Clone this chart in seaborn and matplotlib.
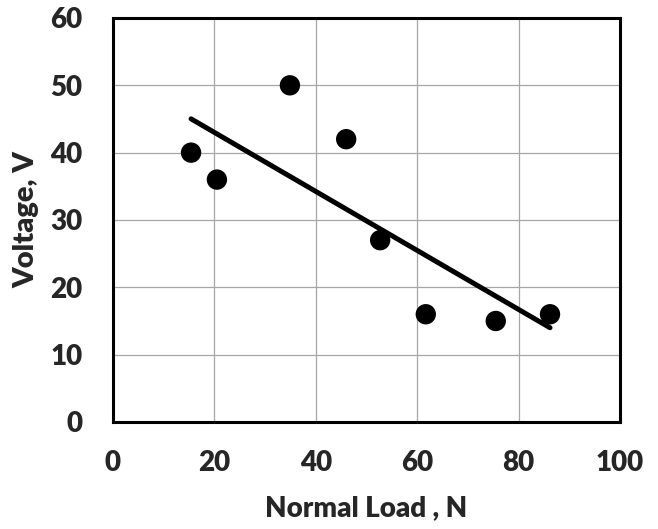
import numpy as np
import matplotlib
matplotlib.use("Agg")
import matplotlib.pyplot as plt
import pandas as pd
import seaborn as sns

# values
normal_load = [15.4, 20.5, 34.9, 46.0, 52.7, 61.7, 75.5, 86.2]
voltage = [40, 36, 50, 42, 27, 16, 15, 16]
x_ticks = [0, 20, 40, 60, 80, 100]
y_ticks = [0, 10, 20, 30, 40, 50, 60]

df = pd.DataFrame({"load": normal_load, "voltage": voltage})

sns.set_style("white")
plt.rcParams["font.family"] = ["Lato", "DejaVu Sans"]
plt.rcParams["font.weight"] = "bold"

fig = plt.figure(figsize=(6.58, 5.29), dpi=100)
ax = fig.add_axes([0.1717, 0.2023, 0.7705, 0.7637])

sns.regplot(data=df, x="load", y="voltage", ax=ax, ci=None, truncate=True,
            scatter_kws=dict(s=215, color="black", edgecolor="none", alpha=1, zorder=4),
            line_kws=dict(color="black", lw=3.6, zorder=3))

ax.set_xlim(0, 100)
ax.set_ylim(0, 60)
ax.set_xticks(x_ticks)
ax.set_yticks(y_ticks)
ax.grid(True, color="#a6a6a6", lw=0.9)
ax.set_axisbelow(True)
ax.tick_params(length=0, labelsize=20)
ax.tick_params(axis="x", pad=20)
ax.tick_params(axis="y", pad=22)
for lab in ax.get_xticklabels() + ax.get_yticklabels():
    lab.set_fontweight("heavy")
for sp in ax.spines.values():
    sp.set_visible(True)
    sp.set_color("black")
    sp.set_linewidth(2.2)

ax.set_xlabel("Normal Load , N", fontsize=20, fontweight="heavy", labelpad=14)
ax.set_ylabel("Voltage, V", fontsize=21, fontweight="heavy", labelpad=8)

fig.savefig("out.png", dpi=100)
